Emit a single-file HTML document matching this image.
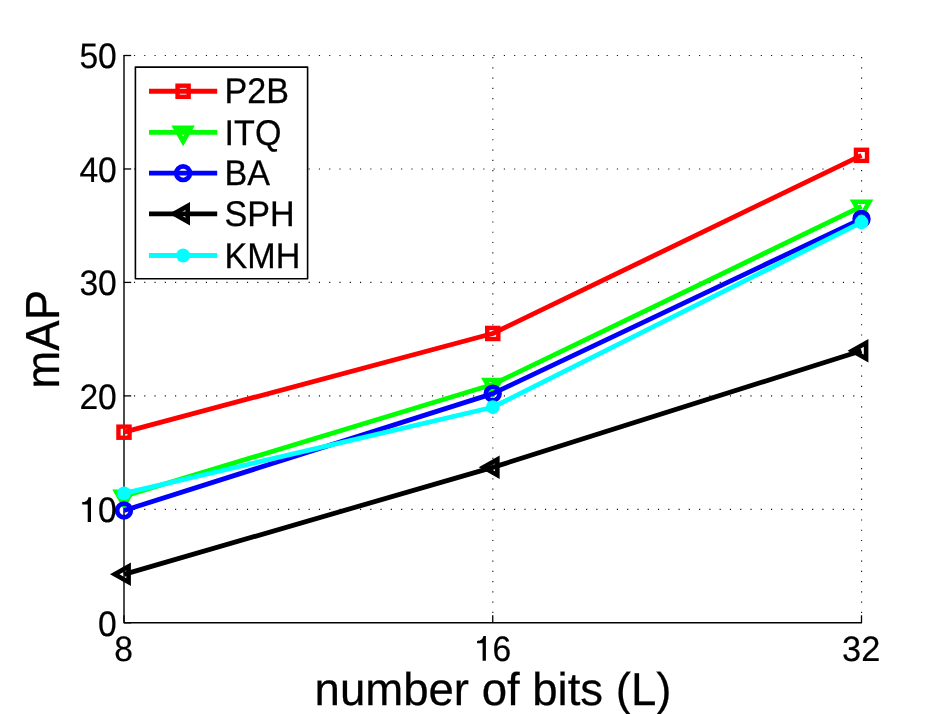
<!DOCTYPE html>
<html><head><meta charset="utf-8"><title>mAP vs number of bits</title>
<style>
html,body{margin:0;padding:0;background:#fff;}
body{width:952px;height:714px;overflow:hidden;}
svg{display:block;will-change:transform;}
svg text{font-family:"Liberation Sans",sans-serif;fill:#000;text-rendering:geometricPrecision;}
</style></head><body>
<svg width="952" height="714" viewBox="0 0 952 714">
<rect width="952" height="714" fill="#fff"/>
<g stroke="#111" stroke-width="1.1" fill="none" stroke-dasharray="1.15 9.125">
<line x1="123.67" y1="509.34" x2="859.5" y2="509.34"/>
<line x1="123.67" y1="395.88" x2="859.5" y2="395.88"/>
<line x1="123.67" y1="282.42" x2="859.5" y2="282.42"/>
<line x1="123.67" y1="168.96" x2="859.5" y2="168.96"/>
<line x1="123.67" y1="55.50" x2="859.5" y2="55.50"/>
<line x1="492.85" y1="57.02" x2="492.85" y2="619.8"/>
<line x1="861.60" y1="57.02" x2="861.60" y2="619.8"/>
</g>
<g stroke="#000" stroke-width="1.3" fill="none" stroke-linejoin="round">
<path d="M124.0,55.0 V622.8 H862.0" stroke-width="1.4"/>
<line x1="124.0" y1="622.80" x2="131.2" y2="622.80"/>
<line x1="124.0" y1="509.34" x2="131.2" y2="509.34"/>
<line x1="124.0" y1="395.88" x2="131.2" y2="395.88"/>
<line x1="124.0" y1="282.42" x2="131.2" y2="282.42"/>
<line x1="124.0" y1="168.96" x2="131.2" y2="168.96"/>
<line x1="124.0" y1="55.50" x2="131.2" y2="55.50"/>
<line x1="124.00" y1="622.8" x2="124.00" y2="615.3"/>
<line x1="492.75" y1="622.8" x2="492.75" y2="615.3"/>
<line x1="861.50" y1="622.8" x2="861.50" y2="615.3"/>
</g>
<polyline points="124.00,432.19 492.75,333.48 861.50,155.34" fill="none" stroke="#ff0000" stroke-width="4.8" stroke-linejoin="round"/>
<rect x="118.45" y="426.64" width="11.1" height="11.1" fill="none" stroke="#ff0000" stroke-width="4.4"/>
<rect x="487.20" y="327.93" width="11.1" height="11.1" fill="none" stroke="#ff0000" stroke-width="4.4"/>
<rect x="855.95" y="149.79" width="11.1" height="11.1" fill="none" stroke="#ff0000" stroke-width="4.4"/>
<polyline points="124.00,496.29 492.75,384.53 861.50,206.40" fill="none" stroke="#00ff00" stroke-width="4.8" stroke-linejoin="round"/>
<path d="M124.00,510.29 L112.25,489.39 L135.75,489.39 Z M124.00,500.79 L120.10,493.99 L127.90,493.99 Z" fill="#00ff00" fill-rule="evenodd"/>
<path d="M492.75,398.53 L481.00,377.63 L504.50,377.63 Z M492.75,389.03 L488.85,382.23 L496.65,382.23 Z" fill="#00ff00" fill-rule="evenodd"/>
<path d="M861.50,220.40 L849.75,199.50 L873.25,199.50 Z M861.50,210.90 L857.60,204.10 L865.40,204.10 Z" fill="#00ff00" fill-rule="evenodd"/>
<polyline points="124.00,510.47 492.75,393.61 861.50,218.88" fill="none" stroke="#0000ff" stroke-width="4.8" stroke-linejoin="round"/>
<circle cx="124.00" cy="510.47" r="6.85" fill="none" stroke="#0000ff" stroke-width="4.7"/>
<circle cx="492.75" cy="393.61" r="6.85" fill="none" stroke="#0000ff" stroke-width="4.7"/>
<circle cx="861.50" cy="218.88" r="6.85" fill="none" stroke="#0000ff" stroke-width="4.7"/>
<polyline points="124.00,574.35 492.75,467.36 861.50,350.72" fill="none" stroke="#000000" stroke-width="4.8" stroke-linejoin="round"/>
<path d="M110.00,574.35 L130.90,562.60 L130.90,586.10 Z M119.50,574.35 L126.30,570.45 L126.30,578.25 Z" fill="#000000" fill-rule="evenodd"/>
<path d="M478.75,467.36 L499.65,455.61 L499.65,479.11 Z M488.25,467.36 L495.05,463.46 L495.05,471.26 Z" fill="#000000" fill-rule="evenodd"/>
<path d="M847.50,350.72 L868.40,338.97 L868.40,362.47 Z M857.00,350.72 L863.80,346.82 L863.80,354.62 Z" fill="#000000" fill-rule="evenodd"/>
<polyline points="124.00,493.46 492.75,407.23 861.50,222.29" fill="none" stroke="#00ffff" stroke-width="4.8" stroke-linejoin="round"/>
<circle cx="124.00" cy="493.46" r="6.9" fill="#00ffff"/>
<circle cx="492.75" cy="407.23" r="6.9" fill="#00ffff"/>
<circle cx="861.50" cy="222.29" r="6.9" fill="#00ffff"/>
<rect x="135.4" y="67.1" width="172.20" height="211.70" fill="#fff" stroke="#000" stroke-width="1.6" stroke-linejoin="round"/>
<line x1="149" y1="91.25" x2="217.2" y2="91.25" stroke="#ff0000" stroke-width="4.8"/>
<rect x="177.55" y="85.70" width="11.1" height="11.1" fill="none" stroke="#ff0000" stroke-width="4.4"/>
<text transform="translate(224.60,103.40) scale(0.988,1.035)" font-size="34.5" text-anchor="start" stroke="#000" stroke-width="0.25">P2B</text>
<line x1="149" y1="132.35" x2="217.2" y2="132.35" stroke="#00ff00" stroke-width="4.8"/>
<path d="M183.10,146.35 L171.35,125.45 L194.85,125.45 Z M183.10,136.85 L179.20,130.05 L187.00,130.05 Z" fill="#00ff00" fill-rule="evenodd"/>
<text transform="translate(224.60,144.50) scale(0.988,1.035)" font-size="34.5" text-anchor="start" stroke="#000" stroke-width="0.25">ITQ</text>
<line x1="149" y1="173.15" x2="217.2" y2="173.15" stroke="#0000ff" stroke-width="4.8"/>
<circle cx="183.10" cy="173.15" r="6.85" fill="none" stroke="#0000ff" stroke-width="4.7"/>
<text transform="translate(224.60,185.30) scale(0.988,1.035)" font-size="34.5" text-anchor="start" stroke="#000" stroke-width="0.25">BA</text>
<line x1="149" y1="213.85" x2="217.2" y2="213.85" stroke="#000000" stroke-width="4.8"/>
<path d="M169.10,213.85 L190.00,202.10 L190.00,225.60 Z M178.60,213.85 L185.40,209.95 L185.40,217.75 Z" fill="#000000" fill-rule="evenodd"/>
<text transform="translate(224.60,226.00) scale(0.988,1.035)" font-size="34.5" text-anchor="start" stroke="#000" stroke-width="0.25">SPH</text>
<line x1="149" y1="255.5" x2="217.2" y2="255.5" stroke="#00ffff" stroke-width="4.8"/>
<circle cx="183.10" cy="255.50" r="6.9" fill="#00ffff"/>
<text transform="translate(224.60,267.65) scale(0.988,1.035)" font-size="34.5" text-anchor="start" stroke="#000" stroke-width="0.25">KMH</text>
<text transform="translate(116.80,635.75) scale(0.975,1.025)" font-size="34.5" text-anchor="end" stroke="#000" stroke-width="0.2">0</text>
<g aria-label="10">
<path transform="translate(91.00,521.94)" d="M0,-24.75 L0,0 L-3.3,0 L-3.3,-17.55 L-8.8,-17.55 L-8.8,-19.85 C-5.6,-19.9 -3.4,-20.9 -2.5,-24.75 Z" fill="#000"/>
<text transform="translate(116.80,522.29) scale(0.975,1.025)" font-size="34.5" text-anchor="end" stroke="#000" stroke-width="0.2">0</text>
</g>
<text transform="translate(116.80,408.83) scale(0.975,1.025)" font-size="34.5" text-anchor="end" stroke="#000" stroke-width="0.2">20</text>
<text transform="translate(116.80,295.37) scale(0.975,1.025)" font-size="34.5" text-anchor="end" stroke="#000" stroke-width="0.2">30</text>
<text transform="translate(116.80,181.91) scale(0.975,1.025)" font-size="34.5" text-anchor="end" stroke="#000" stroke-width="0.2">40</text>
<text transform="translate(116.80,68.45) scale(0.975,1.025)" font-size="34.5" text-anchor="end" stroke="#000" stroke-width="0.2">50</text>
<text transform="translate(123.70,661.00) scale(0.975,1.025)" font-size="34.5" text-anchor="middle" stroke="#000" stroke-width="0.2">8</text>
<g aria-label="16">
<path transform="translate(485.90,660.75)" d="M0,-24.75 L0,0 L-3.3,0 L-3.3,-17.55 L-8.8,-17.55 L-8.8,-19.85 C-5.6,-19.9 -3.4,-20.9 -2.5,-24.75 Z" fill="#000"/>
<text transform="translate(492.48,661.10) scale(0.975,1.025)" font-size="34.5" text-anchor="start" stroke="#000" stroke-width="0.2">6</text>
</g>
<text transform="translate(861.20,661.00) scale(0.995,1.025)" font-size="34.5" text-anchor="middle" stroke="#000" stroke-width="0.2">32</text>
<text transform="translate(493.00,704.80) scale(0.99,1.0)" font-size="46" text-anchor="middle" stroke="#000" stroke-width="0.25">number of bits (L)</text>
<text transform="translate(58.70,339.30) rotate(-90) scale(0.99,1.04)" font-size="46" text-anchor="middle" stroke="#000" stroke-width="0.25">mAP</text>
</svg>
</body></html>
